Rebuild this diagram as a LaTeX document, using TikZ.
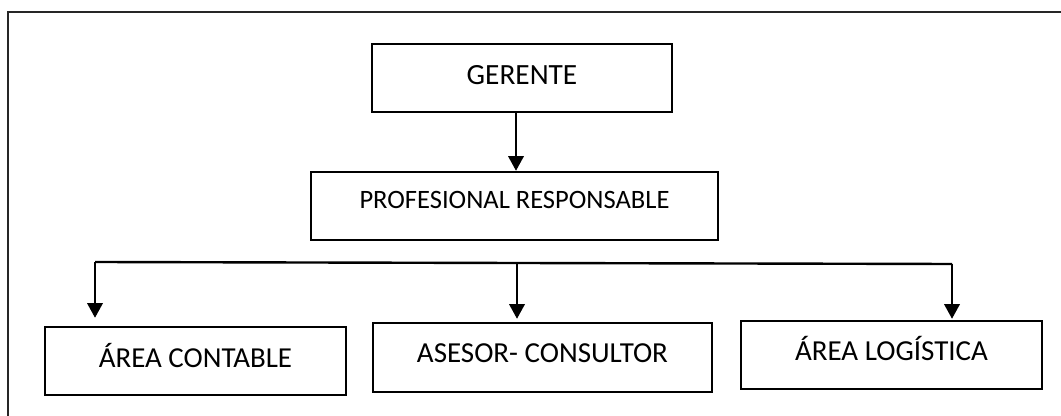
\documentclass[tikz,border=0pt]{standalone}
\usepackage{fontspec}
\setmainfont{Carlito}
\usetikzlibrary{arrows.meta}
\begin{document}
\begin{tikzpicture}[x=0.75pt,y=-0.75pt,
  box/.style={draw, line width=1.8pt, inner sep=0pt, align=center},
  arr/.style={line width=1.8pt, -{Triangle[width=11.5pt,length=11pt]}},
  bus/.style={line width=1.8pt},
  frame/.style={line width=1pt, draw=black!85}]
\useasboundingbox (0,0) rectangle (1061,416);
\fill[white] (0,0) rectangle (1061,416);
\draw[frame] (8,416) -- (8,12) -- (1061,12);
\node[box, minimum width=225pt, minimum height=51pt,
  font=\fontsize{22pt}{26pt}\selectfont, text height=14.2pt, text depth=4.5pt]
  (g) at (522,78) {GERENTE};
\node[box, minimum width=305.25pt, minimum height=51pt,
  font=\fontsize{19.9pt}{24pt}\selectfont, text height=12.8pt, text depth=9pt]
  (p) at (514.5,206) {PROFESIONAL RESPONSABLE};
\node[box, minimum width=225.75pt, minimum height=51pt,
  font=\fontsize{21.7pt}{26pt}\selectfont, text height=14pt, text depth=4.5pt]
  (ac) at (195.5,361) {ÁREA CONTABLE};
\node[box, minimum width=254.25pt, minimum height=51.75pt,
  font=\fontsize{21.75pt}{26pt}\selectfont, text height=14pt, text depth=6.75pt]
  (as) at (542.5,357.5) {ASESOR- CONSULTOR};
\node[box, minimum width=225.75pt, minimum height=51pt,
  font=\fontsize{21.75pt}{26pt}\selectfont, text height=14pt, text depth=6pt]
  (al) at (891.5,355) {ÁREA LOGÍSTICA};
\coordinate (gs) at ([xshift=-4.5pt]g.south);
\draw[arr] (gs) -- (gs |- p.north);
\coordinate (bl) at (95,262);
\coordinate (bm) at (517,263);
\coordinate (br) at (952,264);
\draw[bus] (bl) -- (bm) -- (br);
\draw[arr, shorten >=6pt] (bl) -- (bl |- ac.north);
\draw[arr, shorten >=2.25pt] (bm) -- (bm |- as.north);
\draw[arr, shorten >=0.75pt] (br) -- (br |- al.north);
\end{tikzpicture}
\end{document}
